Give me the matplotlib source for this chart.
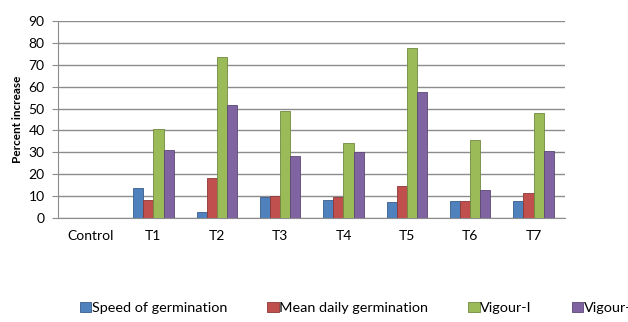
import numpy as np
import matplotlib.pyplot as plt
import matplotlib

matplotlib.rc('font', family=['Lato', 'DejaVu Sans'], size=10)

# Data
categories = ['Control', 'T1', 'T2', 'T3', 'T4', 'T5', 'T6', 'T7']
speed = [0, 13.5, 2.6, 9.7, 8.2, 7.2, 7.6, 7.6]
mean_daily = [0, 8.2, 18.1, 10.2, 9.5, 14.6, 7.6, 11.6]
vigour1 = [0, 40.5, 73.7, 49.0, 34.4, 77.8, 35.5, 47.8]
vigour2 = [0, 31.0, 51.5, 28.3, 30.1, 57.4, 12.8, 30.7]

series = [('Speed of germination', speed, '#4F81BD', '#385D8A'),
          ('Mean daily germination', mean_daily, '#C0504D', '#8C3836'),
          ('Vigour-I', vigour1, '#9BBB59', '#71893F'),
          ('Vigour-II', vigour2, '#8064A2', '#5C4776')]

fig = plt.figure(figsize=(6.28, 3.22), dpi=100)
ax = fig.add_axes([0.093, 0.323, 0.807, 0.612])

x = np.arange(len(categories))
w = 0.16
for i, (name, vals, col, edge) in enumerate(series):
    ax.bar(x + (i - 1.5) * w, vals, w, color=col, edgecolor=edge,
           linewidth=0.6, label=name, zorder=3)

ax.set_xlim(-0.5, len(categories) - 0.5)
ax.set_ylim(0, 90)
ax.set_yticks(range(0, 91, 10))
ax.set_xticks(x)
ax.set_xticklabels(categories)
ax.grid(axis='y', color='#8c8c8c', linewidth=1, zorder=0)
for s in ['top', 'right']:
    ax.spines[s].set_visible(False)
ax.spines['left'].set_color('#8c8c8c')
ax.spines['bottom'].set_color('#8c8c8c')
ax.tick_params(axis='y', length=4, color='#8c8c8c', pad=6)
ax.tick_params(axis='x', length=0, pad=9)
ax.set_ylabel('Percent increase', fontweight='bold', fontsize=8.5, labelpad=4)

# legend runs off the right edge, as in the original
fig.legend(loc='center left', bbox_to_anchor=(0.127, 0.044), ncol=4,
           frameon=False, handlelength=0.8, handleheight=0.7,
           handletextpad=0.05, columnspacing=2.75, fontsize=10.4,
           borderpad=0, borderaxespad=0)

plt.savefig('out.png', dpi=100)
